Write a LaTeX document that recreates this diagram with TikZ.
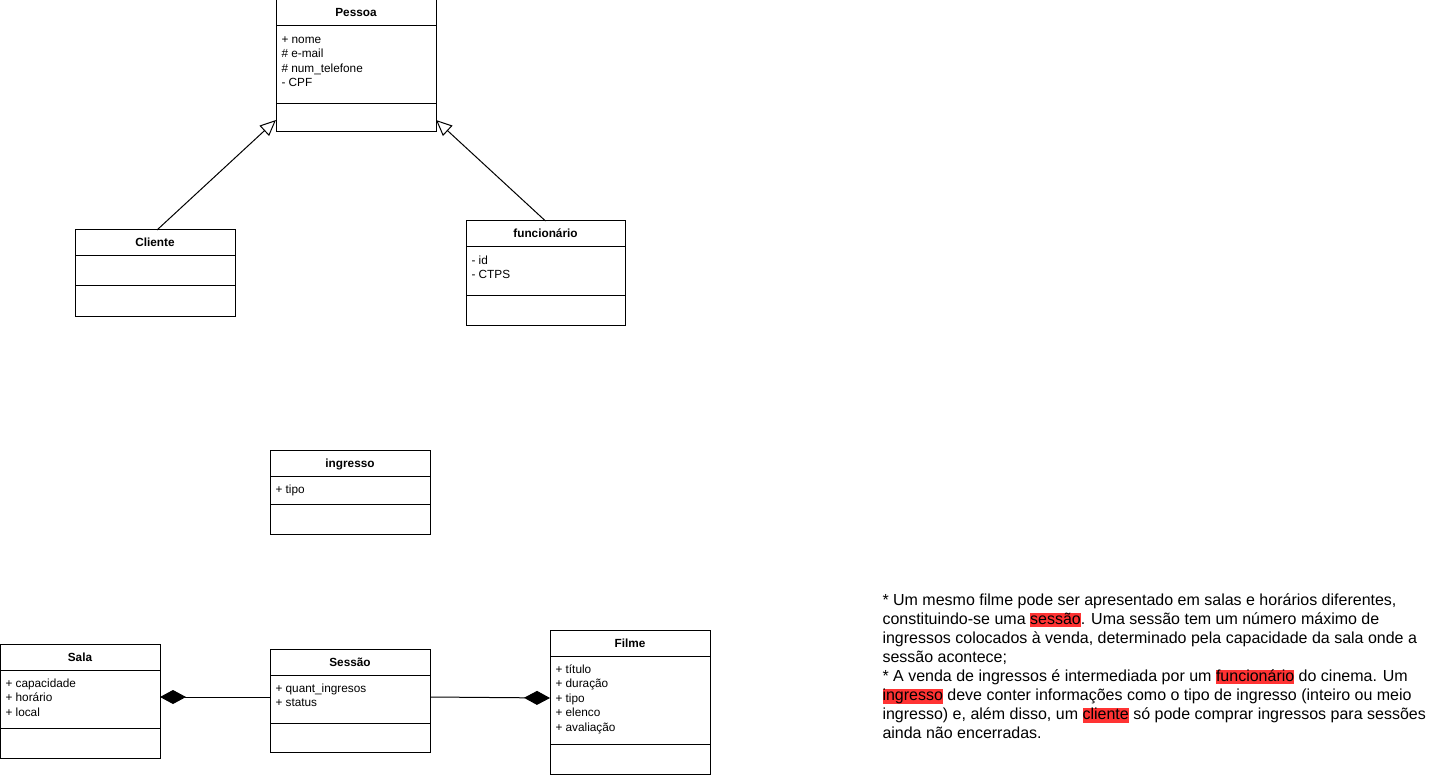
\documentclass[tikz,border=0pt]{standalone}
\usepackage{fontspec}
\setmainfont{Liberation Sans}
\usetikzlibrary{arrows.meta,calc}
\definecolor{hlred}{HTML}{FF3333}
% highlighted word in the note
\newcommand\hlword[1]{{\setlength{\fboxsep}{0pt}\colorbox{hlred}{\rule[-3pt]{0pt}{14.5pt}#1}}}
% UML class: name, x, y, width, header h, attribute h, method h, title, attributes
\newcommand\umlclass[9]{%
  \node[classbox, anchor=north west, minimum width=#4pt, minimum height={(#5+#6+#7)*1pt}] (#1) at (#2,#3) {};
  \draw ([yshift=-#5pt]#1.north west) -- ([yshift=-#5pt]#1.north east);
  \draw ([yshift={-(#5+#6)*1pt}]#1.north west) -- ([yshift={-(#5+#6)*1pt}]#1.north east);
  \node[classtitle, anchor=base] (#1-title) at ([yshift=-17pt]#1.north) {#8};
  \foreach \a [count=\i] in {#9}{%
    \node[classattr] (#1-attr\i) at ([xshift=5pt, yshift={-(#5+17.5+(\i-1)*14.4)*1pt}]#1.north west) {\a};}%
}
\begin{document}
\begin{tikzpicture}[x=1pt, y=-1pt, line width=1pt,
  classbox/.style={draw, fill=white, inner sep=0pt, outer sep=0pt},
  classtitle/.style={font=\fontsize{11.8}{14}\selectfont\bfseries, inner sep=0pt},
  classattr/.style={font=\fontsize{11.8}{14}\selectfont, inner sep=0pt, anchor=base west},
  notetext/.style={font=\fontsize{16}{19}\selectfont, inner sep=0pt, anchor=base west},
  inherit/.style={-{Triangle[open, length=16pt, width=14pt, fill=white]}},
  compose/.style={-{Diamond[length=26pt, width=14pt]}}]
\useasboundingbox (0,0) rectangle (1441,778);

\umlclass{pessoa}{276}{0}{160}{26}{78}{28}{Pessoa}{+ nome, \# e-mail, \# num\_telefone, - CPF}
\umlclass{cliente}{75}{230}{160}{26}{30}{30}{Cliente}{}
\umlclass{funcionario}{466}{221}{159}{26}{48}{30}{funcionário}{- id, - CTPS}
\umlclass{ingresso}{270}{450}{160}{26}{28}{30}{ingresso}{+ tipo}
\umlclass{sala}{0}{644}{160}{26}{58}{30}{Sala}{+ capacidade, + horário, + local}
\umlclass{sessao}{270}{649}{160}{26}{48}{29}{Sessão}{+ quant\_ingresos, + status}
\umlclass{filme}{550}{630}{160}{26}{88}{30}{Filme}{+ título, + duração, + tipo, + elenco, + avaliação}

% generalisation
\draw[inherit] ([xshift=2pt]cliente.north) -- ([yshift=12pt]pessoa.south west);
\draw[inherit] (funcionario.north) -- ([yshift=12pt]pessoa.south east);

% composition
\draw[compose] ([yshift=-48pt]sessao.north west) -- ([yshift=-53pt]sala.north east);
\draw[compose] ([yshift=-48pt]sessao.north east) -- ([yshift=-68pt]filme.north west);

% requirements note
\node[notetext] (note1) at (882,605) {* Um mesmo filme pode ser apresentado em salas e horários diferentes,};
\node[notetext] (note2) at (882,624.1) {constituindo-se uma \hlword{sessão}. Uma sessão tem um número máximo de};
\node[notetext] (note3) at (882,643.2) {ingressos colocados à venda, determinado pela capacidade da sala onde a};
\node[notetext] (note4) at (882,662.3) {sessão acontece;};
\node[notetext] (note5) at (882,681.4) {* A venda de ingressos é intermediada por um \hlword{funcionário} do cinema. Um};
\node[notetext] (note6) at (882,700.5) {\hlword{ingresso} deve conter informações como o tipo de ingresso (inteiro ou meio};
\node[notetext] (note7) at (882,719.6) {ingresso) e, além disso, um \hlword{cliente} só pode comprar ingressos para sessões};
\node[notetext] (note8) at (882,738.7) {ainda não encerradas.};
\end{tikzpicture}
\end{document}
